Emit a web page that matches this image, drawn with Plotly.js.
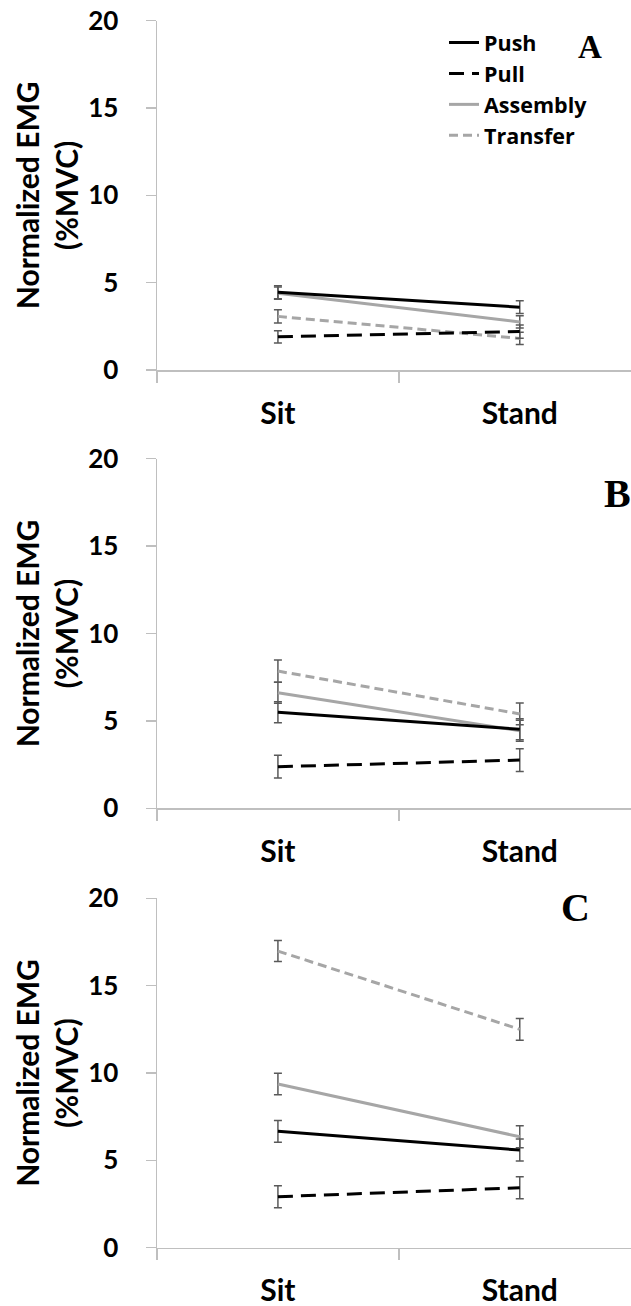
<!DOCTYPE html>
<html>
<head>
<meta charset="utf-8">
<script src="https://cdn.plot.ly/plotly-3.0.1.min.js"></script>
<style>
  html, body { margin: 0; padding: 0; background: #ffffff; }
  #chart { width: 631px; height: 1306px; }
</style>
</head>
<body>
<div id="chart"></div>
<script>
// ---- data ----
const categories = ['Sit', 'Stand'];
const seriesNames = ['Push', 'Pull', 'Assembly', 'Transfer'];
const panelLabels = ['A', 'B', 'C'];

// Panel A
const pushA = [4.45, 3.6];
const pullA = [1.9, 2.2];
const assemblyA = [4.4, 2.75];
const transferA = [3.07, 1.81];
const pushA_err = [0.37, 0.36];
const pullA_err = [0.35, 0.38];
const assemblyA_err = [0.35, 0.35];
const transferA_err = [0.38, 0.35];

// Panel B
const pushB = [5.49, 4.52];
const pullB = [2.38, 2.76];
const assemblyB = [6.61, 4.44];
const transferB = [7.85, 5.4];
const pushB_err = [0.6, 0.6];
const pullB_err = [0.65, 0.65];
const assemblyB_err = [0.6, 0.6];
const transferB_err = [0.64, 0.62];

// Panel C
const pushC = [6.66, 5.59];
const pullC = [2.92, 3.43];
const assemblyC = [9.37, 6.35];
const transferC = [16.98, 12.5];
const pushC_err = [0.62, 0.63];
const pullC_err = [0.63, 0.63];
const assemblyC_err = [0.62, 0.63];
const transferC_err = [0.6, 0.62];

const yTicks = [0, 5, 10, 15, 20];

// ---- styles ----
const FONT = 'Lato, "Open Sans", "Liberation Sans", sans-serif';
const LEG_FONT = '"Open Sans", Lato, "Liberation Sans", sans-serif';
const AXIS_COL = '#bfbfbf';
const ERR_COL = '#595959';
const styles = {
  Push:     {color: '#000000', dash: 'solid', width: 3},
  Pull:     {color: '#000000', dash: '15px,8px', width: 3},
  Assembly: {color: '#a6a6a6', dash: 'solid', width: 3},
  Transfer: {color: '#a6a6a6', dash: '9px,5px', width: 3}
};

const panels = [
  {vals: [pushA, pullA, assemblyA, transferA], errs: [pushA_err, pullA_err, assemblyA_err, transferA_err]},
  {vals: [pushB, pullB, assemblyB, transferB], errs: [pushB_err, pullB_err, assemblyB_err, transferB_err]},
  {vals: [pushC, pullC, assemblyC, transferC], errs: [pushC_err, pullC_err, assemblyC_err, transferC_err]}
];

const xPos = categories.map((c, i) => i);

const traces = [];
panels.forEach((p, pi) => {
  const ax = pi === 0 ? '' : String(pi + 1);
  const order = [3, 2, 1, 0];
  order.forEach(si => {
    const name = seriesNames[si];
    const st = styles[name];
    traces.push({
      type: 'scatter',
      mode: 'lines',
      name: name,
      x: xPos,
      y: p.vals[si],
      xaxis: 'x' + ax,
      yaxis: 'y' + ax,
      line: {color: st.color, dash: st.dash, width: st.width},
      error_y: {type: 'data', array: p.errs[si], visible: true, color: ERR_COL, thickness: 1.5, width: 4},
      showlegend: pi === 0,
      legendrank: si + 1,
      hoverinfo: 'skip'
    });
  });
});

const H = 1306;
const domains = [
  [1 - 370 / H, 1 - 20.7 / H],
  [1 - 808.3 / H, 1 - 458.7 / H],
  [1 - 1247.7 / H, 1 - 898.3 / H]
];

const layout = {
  width: 631,
  height: 1306,
  margin: {l: 157, r: 0, t: 0, b: 0},
  paper_bgcolor: '#ffffff',
  plot_bgcolor: '#ffffff',
  font: {family: FONT, color: '#000000'},
  showlegend: true,
  legend: {
    x: 0.6055, y: 1 - 22 / H, xanchor: 'left', yanchor: 'top',
    font: {family: LEG_FONT, size: 21.5, color: '#000000', weight: 'bold'},
    bgcolor: 'rgba(0,0,0,0)',
    traceorder: 'normal',
    itemwidth: 30,
    tracegroupgap: 0
  },
  annotations: [],
  hovermode: false
};

const letterPos = [
  {x: (590 - 157) / 474, y: 1 - 47 / H, size: 33},
  {x: (617 - 157) / 474, y: 1 - 493 / H, size: 40},
  {x: (575 - 157) / 474, y: 1 - 907 / H, size: 40}
];

panels.forEach((p, pi) => {
  const ax = pi === 0 ? '' : String(pi + 1);
  layout['xaxis' + ax] = {
    domain: [0, 1],
    anchor: 'y' + ax,
    range: [-0.5, 1.46],
    tickmode: 'array',
    tickvals: xPos,
    ticktext: categories,
    ticks: '',
    ticklabelstandoff: 16,
    tickfont: {family: FONT, size: 30, color: '#000000', weight: 'bold'},
    showline: true,
    linecolor: AXIS_COL,
    linewidth: 1.5,
    showgrid: false,
    zeroline: false,
    fixedrange: true,
    minor: {
      tickmode: 'array',
      tickvals: [-0.5, 0.5],
      ticks: 'outside',
      ticklen: 11,
      tickcolor: AXIS_COL,
      tickwidth: 1.5,
      showgrid: false
    }
  };
  layout['yaxis' + ax] = {
    domain: domains[pi],
    anchor: 'x' + ax,
    range: [0, 20],
    tickmode: 'array',
    tickvals: yTicks,
    ticks: 'outside',
    ticklen: 10,
    tickcolor: AXIS_COL,
    tickwidth: 1.5,
    ticklabelstandoff: 22,
    tickfont: {family: FONT, size: 26, color: '#000000', weight: 'bold'},
    showline: true,
    linecolor: AXIS_COL,
    linewidth: 1.5,
    showgrid: false,
    zeroline: false,
    fixedrange: true,
    title: {
      text: 'Normalized EMG<br>(%MVC)',
      font: {family: FONT, size: 30, color: '#000000', weight: 'bold'},
      standoff: 0
    }
  };
  layout.annotations.push({
    xref: 'paper', yref: 'paper',
    x: letterPos[pi].x, y: letterPos[pi].y,
    xanchor: 'center', yanchor: 'middle',
    text: panelLabels[pi],
    showarrow: false,
    font: {family: '"Liberation Serif", "Times New Roman", serif', size: letterPos[pi].size, color: '#000000', weight: 'bold'}
  });
});

Plotly.newPlot('chart', traces, layout, {displayModeBar: false, staticPlot: true});
</script>
</body>
</html>
